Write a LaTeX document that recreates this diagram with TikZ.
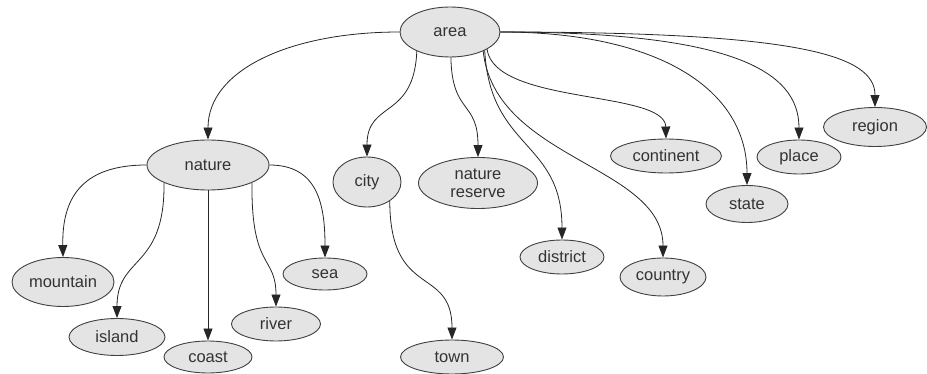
\documentclass[tikz,border=0pt]{standalone}
\usepackage{fontspec}
\setmainfont{Liberation Sans}
\usetikzlibrary{arrows.meta,shapes.geometric}
\definecolor{nodefill}{HTML}{E4E4E4}
\definecolor{nodeline}{HTML}{404040}
\definecolor{txt}{HTML}{333333}
\begin{document}
\begin{tikzpicture}[x=1pt,y=-1pt,
  nd/.style={ellipse,draw=nodeline,fill=nodefill,line width=0.9pt,inner sep=0pt,
    text=txt,font=\fontsize{16.5}{17}\selectfont,align=center},
  edge/.style={draw=black!85,line width=0.8pt,-{Triangle[length=12pt,width=9pt]}}]
\useasboundingbox (0,0) rectangle (927,374);
% nodes
\node[nd,minimum width=100pt,minimum height=50pt] (area) at (450,32) {area};
\node[nd,minimum width=122pt,minimum height=50pt] (nature) at (208,165) {nature};
\node[nd,minimum width=68pt,minimum height=50pt] (city) at (367,182) {city};
\node[nd,minimum width=119pt,minimum height=51pt,font=\fontsize{16.5}{18}\selectfont] (reserve) at (478,183) {nature\\reserve};
\node[nd,minimum width=111pt,minimum height=34pt] (continent) at (666,156) {continent};
\node[nd,minimum width=84pt,minimum height=34pt] (place) at (799,157) {place};
\node[nd,minimum width=103pt,minimum height=39pt] (region) at (875,127) {region};
\node[nd,minimum width=82pt,minimum height=37pt] (state) at (747,204) {state};
\node[nd,minimum width=84pt,minimum height=34pt] (district) at (562,257) {district};
\node[nd,minimum width=86pt,minimum height=38pt] (country) at (663,277) {country};
\node[nd,minimum width=103pt,minimum height=34pt] (town) at (452,357) {town};
\node[nd,minimum width=102pt,minimum height=49pt] (mountain) at (63,282) {mountain};
\node[nd,minimum width=96pt,minimum height=37pt] (island) at (117,337) {island};
\node[nd,minimum width=88pt,minimum height=32pt] (coast) at (208,357) {coast};
\node[nd,minimum width=89pt,minimum height=34pt] (river) at (276,324) {river};
\node[nd,minimum width=84pt,minimum height=32pt] (sea) at (325,274) {sea};
% edges from area
\draw[edge] (area.west) .. controls (290,32) and (208,70) .. (nature.north);
\draw[edge] (area.210) .. controls (414,120) and (367,100) .. (city.north);
\draw[edge] (area.-88) .. controls (452,115) and (478,100) .. (reserve.north);
\draw[edge] (area.-25) .. controls (495,105) and (665,90) .. (continent.north);
\draw[edge] (area.-28) .. controls (490,150) and (562,140) .. (district.north);
\draw[edge] (area.-30) .. controls (495,160) and (663,165) .. (country.north);
\draw[edge] (area.east) .. controls (660,32) and (747,90) .. (state.north);
\draw[edge] (area.east) .. controls (730,32) and (799,70) .. (place.north);
\draw[edge] (area.east) .. controls (800,32) and (875,55) .. (region.north);
% edges from nature
\draw[edge] (nature.west) .. controls (80,165) and (62,200) .. (mountain.north);
\draw[edge] (nature.202) .. controls (165,270) and (117,255) .. (island.north);
\draw[edge] (nature.south) -- (coast.north);
\draw[edge] (nature.-22) .. controls (251,270) and (276,255) .. (river.north);
\draw[edge] (nature.east) .. controls (318,165) and (325,205) .. (sea.north);
% edge from city
\draw[edge] (city.-40) .. controls (390,300) and (452,265) .. (town.north);
\end{tikzpicture}
\end{document}
